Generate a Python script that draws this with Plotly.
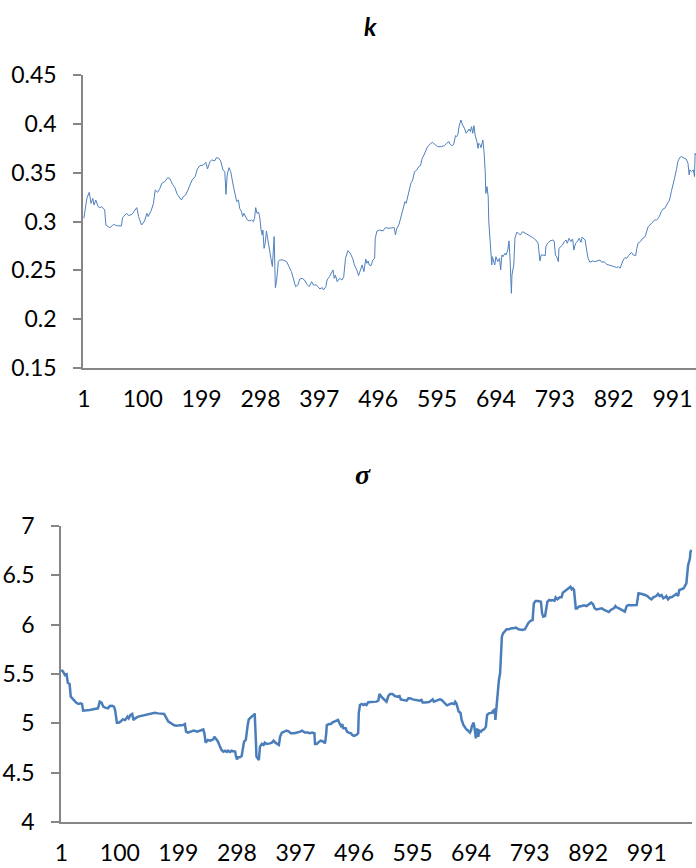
import plotly.graph_objects as go

# ---------------- data ----------------
k_idx = [1, 6, 10, 13, 16, 18, 21, 25, 28, 31, 36, 38, 42, 45, 51, 56, 64, 66, 70, 73, 76, 82, 86, 90, 93, 96, 98,
         103, 107, 109, 114, 118, 121, 125, 129, 132, 137, 142, 146, 150, 154, 158, 163, 165, 168, 172, 176, 179,
         183, 188, 192, 196, 202, 206, 209, 213, 216, 221, 224, 228, 231, 235, 238, 240, 242, 245, 248, 252, 255,
         258, 261, 263, 266, 268, 270, 273, 276, 280, 283, 286, 288, 290, 292, 295, 297, 299, 301, 302, 304, 306,
         308, 310, 312, 314, 316, 318, 319, 321, 323, 325, 328, 330, 336, 342, 346, 350, 354, 357, 361, 364, 368,
         372, 376, 380, 384, 387, 392, 395, 398, 402, 404, 408, 410, 414, 417, 420, 422, 424, 427, 431, 435, 438,
         441, 445, 449, 453, 456, 460, 463, 466, 469, 472, 475, 477, 479, 481, 484, 487, 490, 491, 494, 498, 504,
         508, 514, 521, 523, 525, 527, 531, 533, 536, 539, 541, 543, 546, 549, 551, 554, 557, 561, 564, 567, 570,
         573, 575, 579, 583, 587, 591, 596, 602, 607, 611, 615, 617, 620, 623, 626, 628, 630, 632, 635, 638, 641,
         644, 646, 649, 651, 653, 655, 657, 659, 660, 662, 664, 665, 668, 669, 672, 674, 676, 677, 679, 681, 682,
         684, 686, 687, 688, 690, 692, 694, 697, 700, 702, 704, 706, 709, 711, 714, 716, 718, 720, 721, 723, 724,
         726, 729, 732, 735, 739, 744, 750, 756, 761, 765, 768, 770, 773, 777, 778, 781, 785, 790, 792, 794, 796,
         799, 800, 803, 806, 809, 812, 814, 817, 820, 823, 825, 828, 831, 834, 837, 839, 842, 844, 847, 849, 852,
         857, 861, 865, 869, 872, 876, 880, 885, 889, 893, 897, 900, 903, 905, 908, 911, 914, 917, 919, 922, 925,
         929, 931, 933, 937, 941, 945, 947, 950, 953, 956, 958, 961, 964, 967, 970, 972, 975, 978, 981, 984, 986,
         989, 992, 995, 998, 1000, 1003, 1006, 1009, 1012, 1014, 1017, 1019, 1020, 1023, 1026, 1028, 1029, 1030]
k_val = [0.3033, 0.3237, 0.3299, 0.3186, 0.3237, 0.3169, 0.3220, 0.3152, 0.3142, 0.3152, 0.3118, 0.2964, 0.2947,
         0.2937, 0.2971, 0.2957, 0.2954, 0.3039, 0.3067, 0.3084, 0.3060, 0.3074, 0.3108, 0.3142, 0.3050, 0.2992,
         0.2964, 0.3005, 0.3084, 0.3050, 0.3108, 0.3186, 0.3323, 0.3299, 0.3340, 0.3391, 0.3408, 0.3449, 0.3435,
         0.3381, 0.3347, 0.3278, 0.3231, 0.3220, 0.3254, 0.3271, 0.3323, 0.3374, 0.3425, 0.3459, 0.3538, 0.3572,
         0.3579, 0.3606, 0.3538, 0.3613, 0.3630, 0.3620, 0.3654, 0.3647, 0.3620, 0.3528, 0.3510, 0.3278, 0.3476,
         0.3551, 0.3510, 0.3374, 0.3278,
         0.3203, 0.3220, 0.3135, 0.3101, 0.3050, 0.3084, 0.3050, 0.3016, 0.3005, 0.3016, 0.2998, 0.3033, 0.3142,
         0.3084, 0.3094, 0.3033, 0.2913, 0.2862, 0.2913, 0.2725, 0.2777, 0.2903, 0.2828, 0.2743, 0.2640, 0.2606,
         0.2538, 0.2691, 0.2845, 0.2323, 0.2384, 0.2589, 0.2606, 0.2606, 0.2589, 0.2538, 0.2487, 0.2401, 0.2333,
         0.2350, 0.2411, 0.2418, 0.2401, 0.2357, 0.2333, 0.2384, 0.2350, 0.2350, 0.2333, 0.2309, 0.2323, 0.2299,
         0.2333, 0.2401, 0.2435, 0.2469, 0.2504, 0.2418, 0.2452, 0.2384, 0.2418, 0.2401, 0.2435, 0.2623, 0.2702,
         0.2674, 0.2623, 0.2555, 0.2504, 0.2446, 0.2504, 0.2555, 0.2487, 0.2616, 0.2572, 0.2596, 0.2555, 0.2548,
         0.2606, 0.2623, 0.2828, 0.2903, 0.2913, 0.2903, 0.2937, 0.2930, 0.2937,
         0.2937, 0.2862, 0.2923, 0.2971, 0.3016, 0.3101, 0.3169, 0.3203, 0.3186, 0.3254, 0.3323, 0.3391, 0.3425,
         0.3510, 0.3528, 0.3562, 0.3572, 0.3647, 0.3681, 0.3715, 0.3766, 0.3790, 0.3811, 0.3790, 0.3766, 0.3766,
         0.3776, 0.3800, 0.3818, 0.3790, 0.3776, 0.3790, 0.3879, 0.3869, 0.3893, 0.3971, 0.4039, 0.3988, 0.3954,
         0.3903, 0.3927, 0.3947, 0.3920, 0.3971, 0.3903, 0.3981, 0.3886, 0.3869, 0.3818, 0.3749, 0.3800, 0.3783,
         0.3756, 0.3835, 0.3715, 0.3510, 0.3288, 0.3357, 0.3254, 0.2998, 0.2828, 0.2674, 0.2555, 0.2640, 0.2606,
         0.2555, 0.2640, 0.2589, 0.2623, 0.2504, 0.2657, 0.2640, 0.2674, 0.2657, 0.2708, 0.2801, 0.2589, 0.2265,
         0.2452, 0.2521, 0.2555, 0.2828, 0.2889, 0.2879, 0.2862, 0.2896, 0.2879, 0.2862, 0.2835, 0.2811, 0.2777,
         0.2596, 0.2657, 0.2657, 0.2650,
         0.2743, 0.2777, 0.2801, 0.2811, 0.2801, 0.2657, 0.2640, 0.2589, 0.2725, 0.2743, 0.2760, 0.2794, 0.2811,
         0.2777, 0.2828, 0.2794, 0.2821, 0.2708, 0.2777, 0.2794, 0.2828, 0.2787, 0.2841, 0.2821, 0.2811, 0.2691,
         0.2623, 0.2582, 0.2596, 0.2589, 0.2596, 0.2606, 0.2582, 0.2589, 0.2562, 0.2555, 0.2548, 0.2538, 0.2528,
         0.2538, 0.2521, 0.2562, 0.2606, 0.2630, 0.2623, 0.2650, 0.2664, 0.2684, 0.2657, 0.2650, 0.2725, 0.2777,
         0.2794, 0.2828, 0.2845, 0.2879, 0.2947, 0.2964, 0.2981, 0.2992, 0.3016, 0.3016, 0.3033, 0.3067, 0.3101,
         0.3128, 0.3135, 0.3169, 0.3196, 0.3220, 0.3306, 0.3374, 0.3459, 0.3545, 0.3613, 0.3654, 0.3664, 0.3654,
         0.3647, 0.3640, 0.3596, 0.3476, 0.3528, 0.3510, 0.3528, 0.3459, 0.3698, 0.3681]

s_idx = [1, 4, 7, 10, 12, 15, 17, 19, 22, 26, 30, 34, 36, 38, 43, 49, 55, 60, 63, 66, 69, 72, 75, 80, 83, 87, 90,
         92, 95, 98, 101, 105, 109, 113, 115, 118, 121, 123, 126, 131, 136, 142, 148, 153, 159, 165, 170, 175, 179,
         182, 187, 191, 195, 201, 207, 210, 212, 215, 220, 225, 231, 237, 241, 243, 245, 249, 253, 258, 260, 264,
         266, 269, 272, 275, 278, 281, 283, 286, 289, 292, 295, 296, 298, 300, 303, 306, 308, 310, 313, 314, 316,
         318, 321, 324, 327, 328, 330, 331, 333, 335, 337, 340, 343, 345, 348, 351, 354, 357, 360, 363, 367, 369,
         371, 374, 378, 382, 386, 389, 395, 401, 405, 408, 413, 418, 421, 425, 429, 430, 433, 437, 440, 444, 447,
         449, 450, 454, 457, 459, 463, 467, 469, 472, 474, 476, 478, 482, 484, 487, 491, 493, 496, 500, 503, 504,
         506, 509, 512, 514, 517, 520, 525, 530, 534, 537, 539, 543, 547, 551, 554, 557, 561, 565, 569, 573, 575,
         578, 582, 585, 588, 591, 595, 599, 603, 607, 610, 612, 616, 620, 623, 626, 629, 631, 635, 638, 641, 644,
         647, 650, 653, 656, 661, 665, 667, 669, 671, 673, 676, 678, 681, 684, 686, 689, 692, 694, 695, 698, 699,
         701, 702, 704, 706, 708, 711, 713, 716, 719, 721, 724, 727, 730, 731, 733, 734, 735, 737, 739, 741, 743,
         744, 746, 748, 751, 754, 758, 762, 766, 770, 774, 778, 781, 785, 788, 791, 795, 798, 800, 803, 807, 812,
         814, 816, 819, 821, 823, 826, 829, 831, 835, 837, 840, 844, 847, 849, 853, 856, 859, 862, 864, 866, 868,
         871, 873, 876, 881, 885, 889, 893, 897, 900, 903, 906, 910, 915, 919, 923, 927, 930, 933, 936, 938, 940,
         944, 947, 951, 954, 957, 960, 964, 968, 974, 977, 979, 983, 988, 992, 996, 999, 1002, 1005, 1007, 1010,
         1013, 1016, 1019, 1022, 1024, 1027, 1030, 1033, 1036, 1038, 1041, 1044, 1046, 1049, 1053, 1055, 1058,
         1059, 1060, 1061, 1063, 1064, 1065, 1067]
s_val = [5.541, 5.524, 5.490, 5.497, 5.412, 5.399, 5.270, 5.253, 5.237, 5.210, 5.196, 5.203, 5.196, 5.128, 5.128,
         5.135, 5.142, 5.149, 5.152, 5.220, 5.210, 5.169, 5.159, 5.152, 5.176, 5.179, 5.169, 5.135, 5.007, 5.007,
         5.017, 5.041, 5.034, 5.068, 5.051, 5.085, 5.095, 5.034, 5.051, 5.068, 5.074, 5.085, 5.095, 5.101, 5.108,
         5.101, 5.101, 5.095, 5.051, 5.017, 5.000, 4.983, 4.976, 4.976, 4.983, 4.993, 4.916, 4.906, 4.916, 4.926,
         4.916, 4.926, 4.939, 4.899, 4.804, 4.831, 4.824, 4.838, 4.865, 4.831, 4.814, 4.770, 4.730, 4.713, 4.723,
         4.710, 4.723, 4.710, 4.723, 4.716, 4.713, 4.679, 4.635, 4.656, 4.656, 4.669, 4.764, 4.814, 4.831, 4.899,
         4.973, 5.041, 5.061, 5.074, 5.085, 5.101, 4.831, 4.662, 4.645, 4.628, 4.764, 4.791, 4.781, 4.804, 4.791,
         4.791, 4.797, 4.804, 4.824, 4.804, 4.791, 4.781, 4.865, 4.906, 4.916, 4.926, 4.916, 4.899, 4.899, 4.906,
         4.916, 4.926, 4.906, 4.906, 4.899, 4.906, 4.899, 4.791, 4.791, 4.814, 4.824, 4.814, 4.797, 4.899, 4.983,
         4.993, 4.993, 5.007, 5.017, 5.027, 5.034, 4.993, 4.973, 4.993, 4.949, 4.949, 4.916, 4.906, 4.899, 4.882,
         4.872, 4.882, 4.899, 5.101, 5.186, 5.196, 5.186, 5.196, 5.186, 5.213, 5.216, 5.220, 5.220, 5.230, 5.297,
         5.264, 5.243, 5.220, 5.277, 5.297, 5.297, 5.277, 5.270, 5.277, 5.243, 5.237, 5.237, 5.230, 5.253, 5.253,
         5.243, 5.237, 5.237, 5.230, 5.237, 5.210, 5.210, 5.210, 5.216, 5.230, 5.243, 5.220, 5.230, 5.230, 5.243,
         5.237, 5.220, 5.203, 5.182, 5.189, 5.203, 5.196, 5.220, 5.203, 5.152, 5.118, 5.108, 5.034, 4.983, 4.949,
         4.939, 4.926, 4.906, 4.932, 4.966, 5.007, 4.983, 4.899, 4.848, 4.949, 4.865, 4.926, 4.916, 4.932, 4.939,
         4.966, 5.085, 5.101, 5.101, 5.108, 5.135, 5.101, 5.152, 5.034, 5.169, 5.321, 5.439, 5.507, 5.709, 5.878,
         5.912, 5.939, 5.953, 5.953, 5.963, 5.963, 5.970, 5.953, 5.946, 5.946, 5.953, 5.980, 6.020, 6.041, 6.047,
         6.216, 6.240, 6.240, 6.233, 6.115, 6.081, 6.088, 6.149, 6.233, 6.250, 6.243, 6.250, 6.243, 6.277, 6.257,
         6.277, 6.277, 6.324, 6.345, 6.351, 6.368, 6.385, 6.358, 6.368, 6.351, 6.165, 6.165, 6.182, 6.189, 6.196,
         6.189, 6.209, 6.223, 6.209, 6.165, 6.155, 6.162, 6.165, 6.149, 6.142, 6.128, 6.149, 6.155, 6.169, 6.189,
         6.176, 6.165, 6.155, 6.142, 6.132, 6.189, 6.199, 6.196, 6.196, 6.199, 6.318, 6.318, 6.311, 6.301, 6.290,
         6.267, 6.257, 6.277, 6.284, 6.290, 6.311, 6.290, 6.301, 6.267, 6.277, 6.290, 6.257, 6.277, 6.277, 6.290,
         6.301, 6.311, 6.290, 6.351, 6.358, 6.368, 6.385, 6.419, 6.486, 6.554, 6.605, 6.649, 6.672, 6.740, 6.757]

x_ticks = [1, 100, 199, 298, 397, 496, 595, 694, 793, 892, 991]
k_ticks = [0.15, 0.2, 0.25, 0.3, 0.35, 0.4, 0.45]
k_tick_text = ["0.15", "0.2", "0.25", "0.3", "0.35", "0.4", "0.45"]
s_ticks = [4, 4.5, 5, 5.5, 6, 6.5, 7]
s_tick_text = ["4", "4.5", "5", "5.5", "6", "6.5", "7"]

# ---------------- figure ----------------
W, H = 696, 868
AX = "#868686"
FONT = "Lato"
TICKFONT = dict(family=FONT, size=23, color="#000000")

fig = go.Figure()
fig.add_trace(go.Scatter(x=k_idx, y=k_val, mode="lines", xaxis="x", yaxis="y",
                         line=dict(color="#4F81BD", width=1), showlegend=False, hoverinfo="skip"))
fig.add_trace(go.Scatter(x=s_idx, y=s_val, mode="lines", xaxis="x2", yaxis="y2",
                         line=dict(color="#4A7EBB", width=2.5), showlegend=False, hoverinfo="skip"))

def xax(domain, rng, anchor):
    return dict(domain=domain, range=rng, anchor=anchor, showline=True, linecolor=AX, linewidth=1.5,
                showgrid=False, zeroline=False, ticks="", tickmode="array", tickvals=x_ticks,
                ticktext=[str(t) for t in x_ticks], tickfont=TICKFONT, ticklabelstandoff=10,
                automargin=False)

def yax(domain, rng, anchor, vals, text):
    return dict(domain=domain, range=rng, anchor=anchor, showline=True, linecolor=AX, linewidth=1.5,
                showgrid=False, zeroline=False, ticks="outside", ticklen=8, tickwidth=1.5, tickcolor=AX,
                tickmode="array", tickvals=vals, ticktext=text, tickfont=TICKFONT, ticklabelstandoff=12,
                automargin=False)

fig.update_layout(
    template="none",
    width=W, height=H, autosize=False,
    margin=dict(l=0, r=0, t=0, b=0, pad=0),
    paper_bgcolor="white", plot_bgcolor="white",
    xaxis=xax([83 / W, 1.0], [-0.5, 1030.5], "y"),
    yaxis=yax([(H - 368) / H, (H - 75) / H], [0.15, 0.45], "x", k_ticks, k_tick_text),
    xaxis2=xax([61 / W, 692 / W], [0.5, 1067.5], "y2"),
    yaxis2=yax([(H - 822) / H, (H - 526) / H], [4, 7], "x2", s_ticks, s_tick_text),
    annotations=[
        dict(text="<b><i>k</i></b>", x=370 / W, y=1 - 26 / H, xref="paper", yref="paper",
             showarrow=False, xanchor="center", yanchor="middle",
             font=dict(family=FONT, size=25, color="#000000")),
        dict(text="<b><i>σ</i></b>", x=363 / W, y=1 - 474 / H, xref="paper", yref="paper",
             showarrow=False, xanchor="center", yanchor="middle",
             font=dict(family="Liberation Serif", size=28, color="#000000")),
    ],
)

fig.write_html("out.html", config={"displayModeBar": False},
               post_script="document.body.style.margin='0';document.body.style.overflow='hidden';")
